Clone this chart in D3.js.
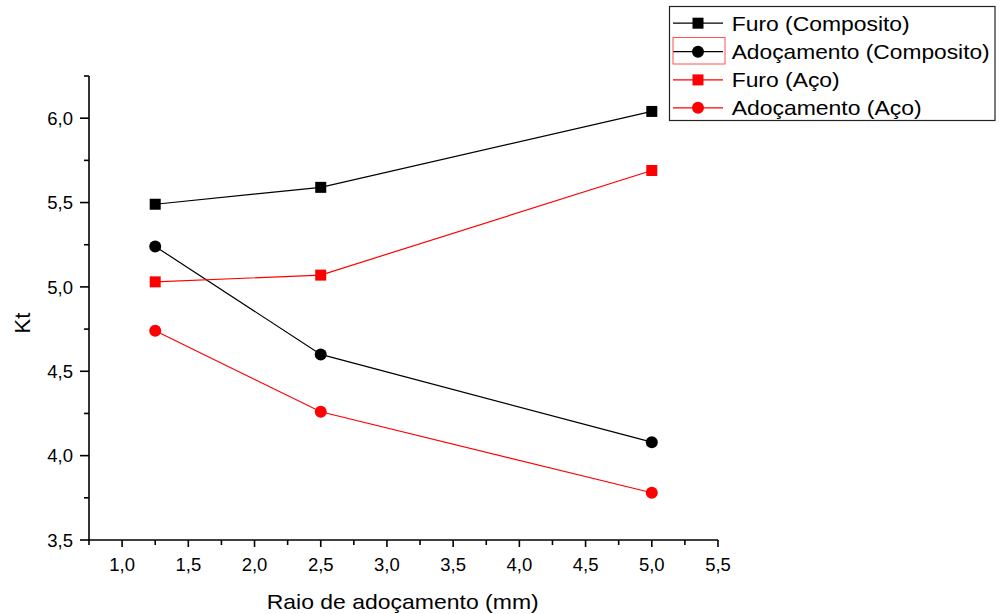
<!DOCTYPE html>
<html>
<head>
<meta charset="utf-8">
<script src="https://cdn.jsdelivr.net/npm/d3@7"></script>
<style>
  html, body { margin: 0; padding: 0; background: #fff; }
  text { font-family: Arial, "Liberation Sans", sans-serif; fill: #000; }
</style>
</head>
<body>
<svg id="chart" width="1000" height="614"></svg>
<script>
// Stress concentration factor Kt versus fillet radius
const raio = [1.25, 2.5, 5.0];
const furoComposito = [5.49, 5.59, 6.04];
const adocComposito = [5.24, 4.60, 4.08];
const furoAco = [5.03, 5.07, 5.69];
const adocAco = [4.74, 4.26, 3.78];

const xTicks = [1.0, 1.5, 2.0, 2.5, 3.0, 3.5, 4.0, 4.5, 5.0, 5.5];
const yTicks = [3.5, 4.0, 4.5, 5.0, 5.5, 6.0];

const seriesNames = ["Furo (Composito)", "Adoçamento (Composito)", "Furo (Aço)", "Adoçamento (Aço)"];
const seriesValues = [furoComposito, adocComposito, furoAco, adocAco];
const seriesColors = ["#000000", "#000000", "#ff0000", "#ff0000"];
const seriesShapes = ["square", "circle", "square", "circle"];

const svg = d3.select("#chart");
const fmt = v => d3.format(".1f")(v).replace(".", ",");

const x = d3.scaleLinear().domain([0.75, 5.5]).range([89, 718]);
const y = d3.scaleLinear().domain([3.5, 6.25]).range([540, 76]);

// minor ticks at quarter steps
const xMinor = d3.range(0.75, 5.51, 0.25);
const yMinor = d3.range(3.5, 6.26, 0.25);

// X axis
const gx = svg.append("g").attr("transform", "translate(0,540)");
gx.append("line").attr("x1", 89).attr("x2", 718).attr("stroke", "#000").attr("stroke-width", 1.6);
gx.selectAll("line.minor").data(xMinor).join("line")
  .attr("class", "minor")
  .attr("x1", d => x(d)).attr("x2", d => x(d))
  .attr("y1", 0).attr("y2", d => xTicks.some(t => Math.abs(t - d) < 1e-6) ? 7 : 5)
  .attr("stroke", "#000").attr("stroke-width", 1.6);
gx.selectAll("text").data(xTicks).join("text")
  .attr("x", d => x(d)).attr("y", 30.7)
  .attr("text-anchor", "middle").attr("font-size", 18.5)
  .text(fmt);

// Y axis
const gy = svg.append("g").attr("transform", "translate(89,0)");
gy.append("line").attr("y1", 540).attr("y2", 76).attr("stroke", "#000").attr("stroke-width", 1.6);
gy.selectAll("line.minor").data(yMinor).join("line")
  .attr("class", "minor")
  .attr("y1", d => y(d)).attr("y2", d => y(d))
  .attr("x1", 0).attr("x2", d => yTicks.some(t => Math.abs(t - d) < 1e-6) ? -9 : -5)
  .attr("stroke", "#000").attr("stroke-width", 1.6);
gy.selectAll("text").data(yTicks).join("text")
  .attr("x", -16).attr("y", d => y(d)).attr("dy", "0.36em")
  .attr("text-anchor", "end").attr("font-size", 18.5)
  .text(fmt);

// Axis titles
svg.append("text")
  .attr("x", 266.7).attr("y", 609)
  .attr("font-size", 21)
  .attr("textLength", 272).attr("lengthAdjust", "spacingAndGlyphs")
  .text("Raio de adoçamento (mm)");
svg.append("text")
  .attr("transform", "translate(30,323) rotate(-90)")
  .attr("text-anchor", "middle").attr("font-size", 22)
  .text("Kt");

// Series lines and markers
const line = d3.line().x((d, i) => x(raio[i])).y(d => y(d));

function drawMarker(g, shape, color, cx, cy) {
  if (shape === "square") {
    g.append("rect").attr("x", cx - 5.5).attr("y", cy - 5.5)
      .attr("width", 11).attr("height", 11).attr("fill", color);
  } else {
    g.append("circle").attr("cx", cx).attr("cy", cy).attr("r", 6).attr("fill", color);
  }
}

seriesValues.forEach((vals, s) => {
  const g = svg.append("g");
  g.append("path").datum(vals).attr("d", line)
    .attr("fill", "none").attr("stroke", seriesColors[s]).attr("stroke-width", 1.2);
  vals.forEach((v, i) => drawMarker(g, seriesShapes[s], seriesColors[s], x(raio[i]), y(v)));
});

// Legend
const lg = svg.append("g");
lg.append("rect").attr("x", 669.5).attr("y", 6.5).attr("width", 325.5).attr("height", 114)
  .attr("fill", "#fff").attr("stroke", "#222").attr("stroke-width", 1.2);
const legendBaselines = [30.7, 59.2, 87.4, 115.3];
const legendWidths = [178, 258, 108, 190];
seriesNames.forEach((name, s) => {
  const base = legendBaselines[s];
  const cy = base - 7.5;
  lg.append("line").attr("x1", 673).attr("x2", 723).attr("y1", cy).attr("y2", cy)
    .attr("stroke", seriesColors[s]).attr("stroke-width", 1.2);
  drawMarker(lg, seriesShapes[s], seriesColors[s], 698, cy);
  lg.append("text").attr("x", 731.7).attr("y", base)
    .attr("font-size", 21)
    .attr("textLength", legendWidths[s]).attr("lengthAdjust", "spacingAndGlyphs")
    .text(name);
});
// selection outline around the second legend sample
lg.append("rect").attr("x", 673).attr("y", 37.5).attr("width", 52).attr("height", 26.5)
  .attr("fill", "none").attr("stroke", "#ff5050").attr("stroke-width", 1);
</script>
</body>
</html>
